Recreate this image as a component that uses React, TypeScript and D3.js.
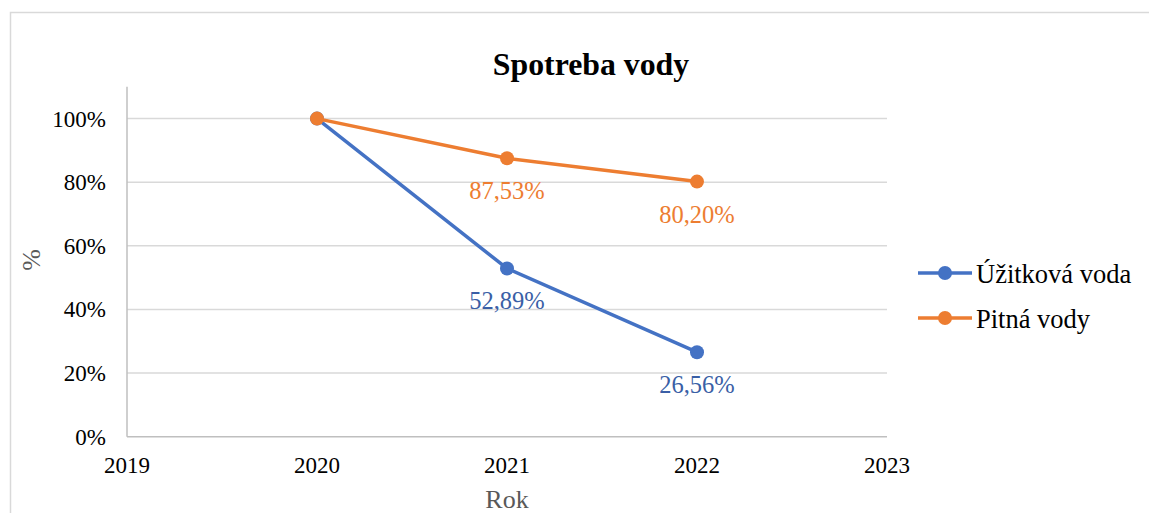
import React, { useEffect, useRef } from "react";
import * as d3 from "d3";

const years = [2020, 2021, 2022];
const uzitkova = [100, 52.89, 26.56];
const pitna = [100, 87.53, 80.2];
const uzitkovaLabels = ["", "52,89%", "26,56%"];
const pitnaLabels = ["", "87,53%", "80,20%"];
const xTicks = [2019, 2020, 2021, 2022, 2023];
const yTicks = [0, 20, 40, 60, 80, 100];

const series = [
  { name: "Úžitková voda", values: uzitkova, labels: uzitkovaLabels, color: "#4472C4", labelColor: "#3A5FA6" },
  { name: "Pitná vody", values: pitna, labels: pitnaLabels, color: "#ED7D31", labelColor: "#ED7D31" },
];

const W = 1149;
const H = 513;
const FONT = "Liberation Serif";

const App = () => {
  const ref = useRef<SVGSVGElement>(null);

  useEffect(() => {
    const svg = d3.select(ref.current);
    svg.selectAll("*").remove();

    const x = d3.scaleLinear().domain([2019, 2023]).range([127, 887]);
    const y = d3.scaleLinear().domain([0, 110]).range([436.7, 86.8]);

    // chart border
    svg.append("rect")
      .attr("x", 10.5).attr("y", 12.5)
      .attr("width", W).attr("height", H)
      .attr("fill", "white").attr("stroke", "#d9d9d9").attr("stroke-width", 1.5);

    // title
    svg.append("text")
      .attr("x", 591).attr("y", 75)
      .attr("text-anchor", "middle")
      .attr("font-family", FONT).attr("font-weight", "bold").attr("font-size", 31.8)
      .text("Spotreba vody");

    // gridlines
    svg.append("g")
      .selectAll("line")
      .data(yTicks.filter(d => d > 0))
      .enter().append("line")
      .attr("x1", x(2019)).attr("x2", x(2023))
      .attr("y1", d => y(d)).attr("y2", d => y(d))
      .attr("stroke", "#d9d9d9").attr("stroke-width", 1.5);

    // axes lines
    svg.append("line")
      .attr("x1", x(2019)).attr("x2", x(2019))
      .attr("y1", y(110)).attr("y2", y(0))
      .attr("stroke", "#bfbfbf").attr("stroke-width", 1.5);
    svg.append("line")
      .attr("x1", x(2019)).attr("x2", x(2023))
      .attr("y1", y(0)).attr("y2", y(0))
      .attr("stroke", "#bfbfbf").attr("stroke-width", 1.5);

    // y tick labels
    svg.append("g")
      .selectAll("text")
      .data(yTicks)
      .enter().append("text")
      .attr("x", 106).attr("y", d => y(d) + 8)
      .attr("text-anchor", "end")
      .attr("font-family", FONT).attr("font-size", 23).attr("fill", "#000")
      .text(d => `${d}%`);

    // x tick labels
    svg.append("g")
      .selectAll("text")
      .data(xTicks)
      .enter().append("text")
      .attr("x", d => x(d)).attr("y", y(0) + 36)
      .attr("text-anchor", "middle")
      .attr("font-family", FONT).attr("font-size", 23).attr("fill", "#000")
      .text(d => d);

    // axis titles
    svg.append("text")
      .attr("x", 507).attr("y", 508)
      .attr("text-anchor", "middle")
      .attr("font-family", FONT).attr("font-size", 26).attr("fill", "#595959")
      .text("Rok");
    svg.append("text")
      .attr("transform", "translate(40,260) rotate(-90)")
      .attr("text-anchor", "middle")
      .attr("font-family", FONT).attr("font-size", 26).attr("fill", "#595959")
      .text("%");

    const line = d3.line<number>()
      .x((_, i) => x(years[i]))
      .y(d => y(d));

    series.forEach(s => {
      const g = svg.append("g");
      g.append("path")
        .datum(s.values)
        .attr("d", line)
        .attr("fill", "none")
        .attr("stroke", s.color)
        .attr("stroke-width", 3.5)
        .attr("stroke-linejoin", "round");
      g.selectAll("circle")
        .data(s.values)
        .enter().append("circle")
        .attr("cx", (_, i) => x(years[i]))
        .attr("cy", d => y(d))
        .attr("r", 7)
        .attr("fill", s.color);
      g.selectAll("text")
        .data(s.values)
        .enter().append("text")
        .attr("x", (_, i) => x(years[i]))
        .attr("y", d => y(d) + 41)
        .attr("text-anchor", "middle")
        .attr("font-family", FONT).attr("font-size", 24.5)
        .attr("fill", s.labelColor)
        .text((_, i) => s.labels[i]);
    });

    // legend
    const legend = svg.append("g");
    series.forEach((s, i) => {
      const ly = 273 + i * 45;
      legend.append("line")
        .attr("x1", 918).attr("x2", 972)
        .attr("y1", ly).attr("y2", ly)
        .attr("stroke", s.color).attr("stroke-width", 3.5);
      legend.append("circle")
        .attr("cx", 945).attr("cy", ly).attr("r", 7)
        .attr("fill", s.color);
      legend.append("text")
        .attr("x", 976).attr("y", ly + 9.5)
        .attr("font-family", FONT).attr("font-size", 26.5).attr("fill", "#000")
        .text(s.name);
    });
  }, []);

  return (
    <svg
      ref={ref}
      width={W}
      height={H}
      style={{ position: "absolute", left: 0, top: 0, background: "white" }}
    ></svg>
  );
};

export default App;
